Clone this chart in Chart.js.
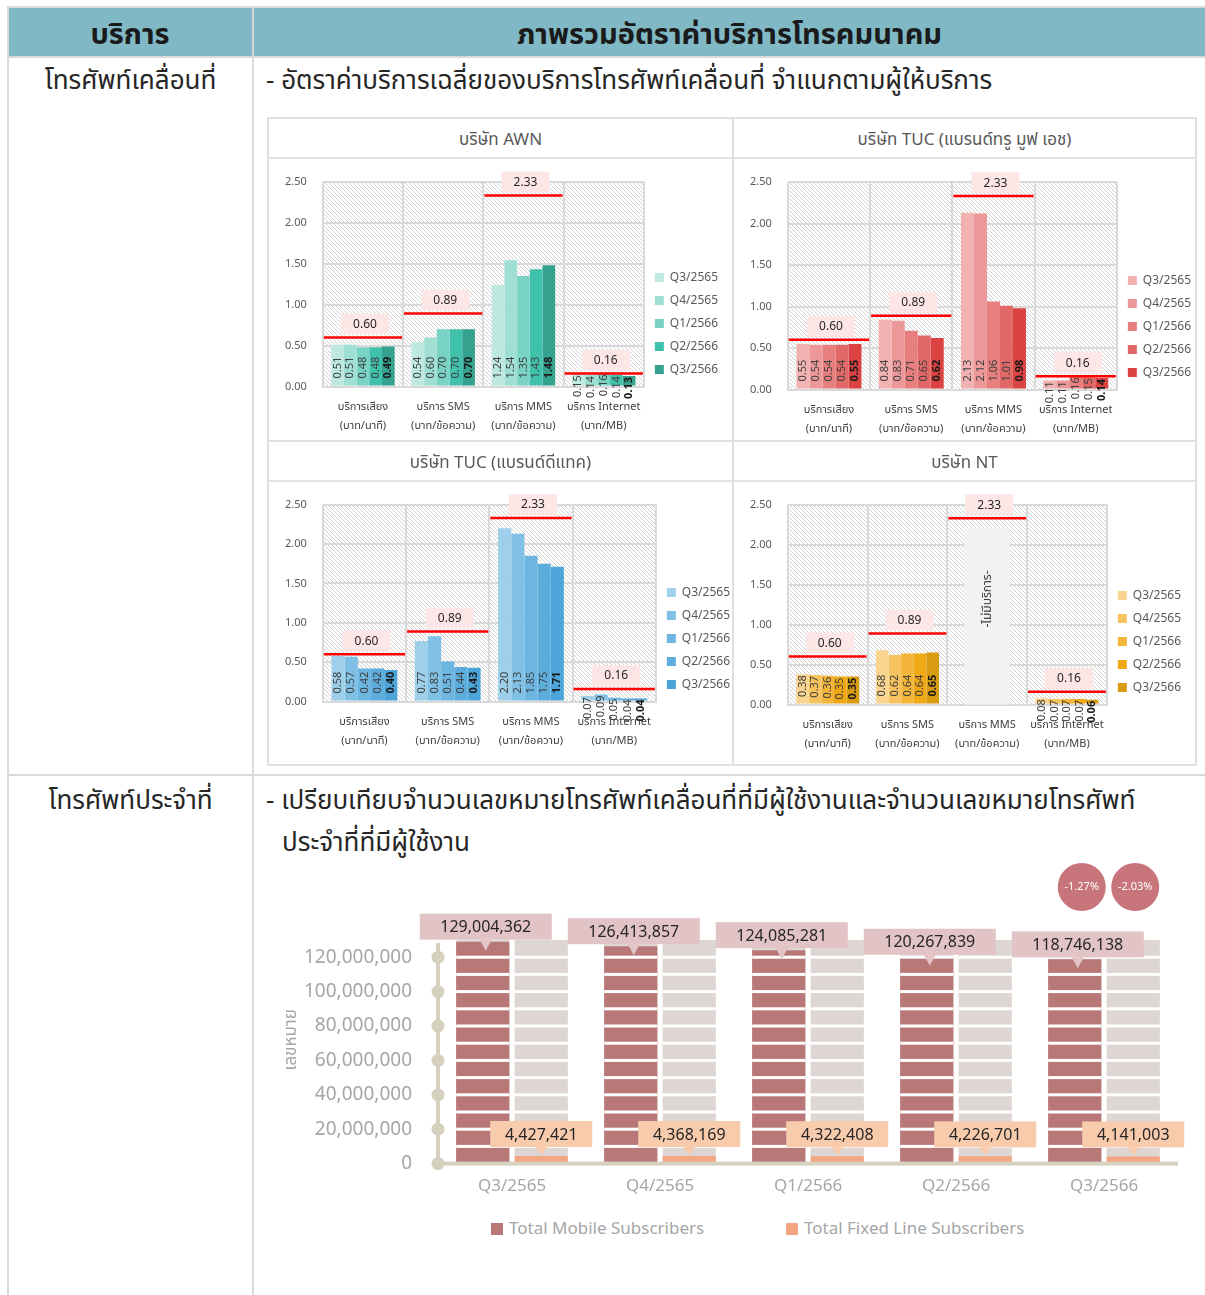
<!DOCTYPE html>
<html lang="th">
<head>
<meta charset="utf-8">
<title>ภาพรวมอัตราค่าบริการโทรคมนาคม</title>
<script src="https://cdn.jsdelivr.net/npm/chart.js@4.4.1/dist/chart.umd.min.js"></script>
<style>
    body { margin: 0; background: #fff; font-family: "Noto Sans", "Noto Sans Thai", sans-serif; color: #262626; }
    #page { position: relative; width: 1205px; height: 1295px; overflow: hidden; }
    .ln { position: absolute; background: #D9D9D9; }
    .head { position: absolute; top: 8px; height: 48px; line-height: 50px; background: #80B9C5; text-align: center; font-weight: bold; font-size: 29px; color: #1a1a1a; }
    .txt { position: absolute; font-size: 26px; line-height: 30px; white-space: nowrap; color: #262626; }
    .panel { position: absolute; }
    .ptitle { height: 38px; line-height: 40px; text-align: center; font-size: 17px; color: #595959; border-bottom: 2px solid #E3E3E3; }
    .panel canvas { display: block; }
    .leg { position: absolute; top: 1216px; font-size: 17px; color: #A6A6A6; white-space: nowrap; }
    .leg i { display: inline-block; width: 12px; height: 12px; margin-right: 6px; vertical-align: -1px; }
</style>
</head>
<body>
<div id="page">
    <div class="ln" style="left:7px;top:6px;width:1198px;height:2px"></div>
    <div class="head" style="left:8px;width:244px">บริการ</div>
    <div class="head" style="left:254px;width:951px">ภาพรวมอัตราค่าบริการโทรคมนาคม</div>
    <div class="ln" style="left:7px;top:6px;width:2px;height:1289px"></div>
    <div class="ln" style="left:252px;top:6px;width:2px;height:1289px"></div>
    <div class="ln" style="left:7px;top:56px;width:1198px;height:2px"></div>
    <div class="ln" style="left:7px;top:774px;width:1198px;height:2px"></div>

    <div class="txt" style="left:9px;width:243px;top:64px;text-align:center">โทรศัพท์เคลื่อนที่</div>
    <div class="txt" style="left:266px;top:64px">- อัตราค่าบริการเฉลี่ยของบริการโทรศัพท์เคลื่อนที่ จำแนกตามผู้ให้บริการ</div>
    <div class="txt" style="left:9px;width:243px;top:784px;text-align:center">โทรศัพท์ประจำที่</div>
    <div class="txt" style="left:266px;top:784px">- เปรียบเทียบจำนวนเลขหมายโทรศัพท์เคลื่อนที่ที่มีผู้ใช้งานและจำนวนเลขหมายโทรศัพท์</div>
    <div class="txt" style="left:282px;top:826px">ประจำที่ที่มีผู้ใช้งาน</div>

    <!-- 2x2 grid of provider charts -->
    <div class="ln" style="left:267px;top:117px;width:930px;height:2px;background:#E0E0E0"></div>
    <div class="ln" style="left:267px;top:764px;width:930px;height:2px;background:#E0E0E0"></div>
    <div class="ln" style="left:267px;top:117px;width:2px;height:649px;background:#E0E0E0"></div>
    <div class="ln" style="left:1195px;top:117px;width:2px;height:649px;background:#E0E0E0"></div>
    <div class="ln" style="left:732px;top:117px;width:2px;height:649px;background:#E0E0E0"></div>
    <div class="ln" style="left:267px;top:440px;width:930px;height:2px;background:#E0E0E0"></div>

    <div class="panel" style="left:269px;top:119px;width:463px">
        <div class="ptitle">บริษัท AWN</div>
        <canvas id="chartAwn" width="463" height="293"></canvas>
    </div>
    <div class="panel" style="left:734px;top:119px;width:461px">
        <div class="ptitle">บริษัท TUC (แบรนด์ทรู มูฟ เอช)</div>
        <canvas id="chartTrue" width="461" height="293"></canvas>
    </div>
    <div class="panel" style="left:269px;top:442px;width:463px">
        <div class="ptitle">บริษัท TUC (แบรนด์ดีแทค)</div>
        <canvas id="chartDtac" width="463" height="293"></canvas>
    </div>
    <div class="panel" style="left:734px;top:442px;width:461px">
        <div class="ptitle">บริษัท NT</div>
        <canvas id="chartNt" width="461" height="293"></canvas>
    </div>

    <canvas id="chartSubs" width="951" height="360" style="position:absolute;left:254px;top:855px"></canvas>
    <div class="leg" style="left:491px"><i style="background:#B97878"></i>Total Mobile Subscribers</div>
    <div class="leg" style="left:786px"><i style="background:#F2A782"></i>Total Fixed Line Subscribers</div>
</div>

<script>
// ---- data: average service rates (baht) per provider ----
const services = [['บริการเสียง', '(บาท/นาที)'], ['บริการ SMS', '(บาท/ข้อความ)'], ['บริการ MMS', '(บาท/ข้อความ)'], ['บริการ Internet', '(บาท/MB)']];
const quarters = ['Q3/2565', 'Q4/2565', 'Q1/2566', 'Q2/2566', 'Q3/2566'];
const ceilingRates = [0.60, 0.89, 2.33, 0.16];
const rateTicks = [0, 0.5, 1.0, 1.5, 2.0, 2.5];

const awnVoice = [0.51, 0.51, 0.48, 0.48, 0.49];
const awnSms = [0.54, 0.60, 0.70, 0.70, 0.70];
const awnMms = [1.24, 1.54, 1.35, 1.43, 1.48];
const awnNet = [0.15, 0.14, 0.16, 0.14, 0.13];

const trueVoice = [0.55, 0.54, 0.54, 0.54, 0.55];
const trueSms = [0.84, 0.83, 0.71, 0.65, 0.62];
const trueMms = [2.13, 2.12, 1.06, 1.01, 0.98];
const trueNet = [0.11, 0.11, 0.16, 0.15, 0.14];

const dtacVoice = [0.58, 0.57, 0.42, 0.42, 0.40];
const dtacSms = [0.77, 0.83, 0.51, 0.44, 0.43];
const dtacMms = [2.20, 2.13, 1.85, 1.75, 1.71];
const dtacNet = [0.07, 0.09, 0.05, 0.04, 0.04];

const ntVoice = [0.38, 0.37, 0.36, 0.35, 0.35];
const ntSms = [0.68, 0.62, 0.64, 0.64, 0.65];
const ntMms = [null, null, null, null, null];   // -ไม่มีบริการ-
const ntNet = [0.08, 0.07, 0.07, 0.07, 0.06];
const ntNoServiceLevel = 2.2;

// ---- data: subscribers ----
const subQuarters = ['Q3/2565', 'Q4/2565', 'Q1/2566', 'Q2/2566', 'Q3/2566'];
const mobileSubs = [129004362, 126413857, 124085281, 120267839, 118746138];
const fixedSubs = [4427421, 4368169, 4322408, 4226701, 4141003];
const subTicks = [0, 20000000, 40000000, 60000000, 80000000, 100000000, 120000000];
const subTrackLevel = 130000000;

const FONT = '"Noto Sans", "Noto Sans Thai", sans-serif';
Chart.defaults.font.family = FONT;

const awnColors = ['#BDE9E1', '#A0DFD4', '#79D3C4', '#3FC1AC', '#35A18F'];
const trueColors = ['#F2B2B2', '#EC9898', '#E77F7F', '#E26767', '#DB4242'];
const dtacColors = ['#9FD0EB', '#80C0E5', '#6DB6E1', '#5DADDC', '#4DA4D8'];
const ntColors = ['#F9D58F', '#F6C35F', '#F3B539', '#F0A815', '#D99B10'];

function hatchPattern(ctx) {
    const tile = document.createElement('canvas');
    tile.width = 4;
    tile.height = 4;
    const t = tile.getContext('2d');
    t.fillStyle = '#ffffff';
    t.fillRect(0, 0, 4, 4);
    t.fillStyle = '#D2D2D2';
    for (let i = 0; i < 4; i++) t.fillRect(i, i, 1, 1);
    return ctx.createPattern(tile, 'repeat');
}

// hatched plot background, red ceiling lines, rotated value labels
const rateDecor = {
    id: 'rateDecor',
    beforeDraw(chart) {
        const { ctx, chartArea: a } = chart;
        ctx.save();
        ctx.fillStyle = hatchPattern(ctx);
        ctx.fillRect(a.left, a.top, a.width, a.height);
        ctx.restore();
    },
    beforeDatasetsDraw(chart, args, opts) {
        if (opts.noService == null) return;
        const { ctx } = chart;
        const x = chart.scales.x, y = chart.scales.y;
        const cw = x.width / chart.data.labels.length;
        const cx = x.getPixelForValue(opts.noService);
        const w = cw * 0.57;
        const top = y.getPixelForValue(ntNoServiceLevel);
        const base = y.getPixelForValue(0);
        ctx.save();
        ctx.fillStyle = '#F2F2F2';
        ctx.fillRect(cx - w / 2, top, w, base - top);
        ctx.translate(cx, top + (base - top) * 0.4);
        ctx.rotate(-Math.PI / 2);
        ctx.fillStyle = '#404040';
        ctx.font = '12px ' + FONT;
        ctx.textAlign = 'center';
        ctx.textBaseline = 'middle';
        ctx.fillText('-ไม่มีบริการ-', 0, 0);
        ctx.restore();
    },
    afterDatasetsDraw(chart) {
        const { ctx } = chart;
        const x = chart.scales.x, y = chart.scales.y;
        const base = y.getPixelForValue(0);
        const last = chart.data.datasets.length - 1;

        ctx.save();
        chart.data.datasets.forEach((ds, di) => {
            const meta = chart.getDatasetMeta(di);
            ctx.font = (di === last ? 'bold ' : '') + '11px ' + FONT;
            ctx.fillStyle = di === last ? '#1a1a1a' : '#404040';
            ctx.textAlign = 'left';
            ctx.textBaseline = 'middle';
            meta.data.forEach((bar, i) => {
                const v = ds.data[i];
                if (v == null) return;
                const txt = v.toFixed(2);
                const tw = ctx.measureText(txt).width;
                const yb = Math.max(base - 8, bar.y + tw + 1);
                ctx.save();
                ctx.translate(bar.x, yb);
                ctx.rotate(-Math.PI / 2);
                ctx.fillText(txt, 0, 0);
                ctx.restore();
            });
        });

        const cw = x.width / chart.data.labels.length;
        ceilingRates.forEach((c, i) => {
            const cx = x.getPixelForValue(i);
            const ly = y.getPixelForValue(c);
            ctx.fillStyle = '#FDE6E6';
            ctx.fillRect(cx - 22, ly - 24, 48, 21);
            ctx.fillStyle = '#262626';
            ctx.font = '12px ' + FONT;
            ctx.textAlign = 'center';
            ctx.textBaseline = 'middle';
            ctx.fillText(c.toFixed(2), cx + 2, ly - 13);
            ctx.strokeStyle = '#FF0000';
            ctx.lineWidth = 2.5;
            ctx.beginPath();
            ctx.moveTo(cx - cw / 2 + 1, ly);
            ctx.lineTo(cx + cw / 2 - 1, ly);
            ctx.stroke();
        });
        ctx.restore();
    }
};

function makeRateChart(canvasId, colors, rows, noService, pad) {
    const datasets = quarters.map((q, qi) => ({
        label: q,
        data: rows.map(r => r[qi]),
        backgroundColor: colors[qi],
        categoryPercentage: 0.79,
        barPercentage: 1.0
    }));

    return new Chart(document.getElementById(canvasId), {
        type: 'bar',
        data: { labels: services, datasets: datasets },
        options: {
            responsive: false,
            animation: false,
            layout: { padding: { left: 0, right: pad.right, top: pad.top, bottom: pad.bottom } },
            scales: {
                x: {
                    grid: { color: '#D9D9D9', lineWidth: 2, drawTicks: false, offset: true },
                    border: { color: '#D9D9D9', width: 2 },
                    ticks: { color: '#404040', font: { size: 11, lineHeight: 1.7 }, padding: 11, maxRotation: 0, autoSkip: false }
                },
                y: {
                    min: 0,
                    max: 2.5,
                    afterBuildTicks: s => { s.ticks = rateTicks.map(v => ({ value: v })); },
                    ticks: { color: '#595959', font: { size: 11 }, padding: 16, callback: v => v.toFixed(2) },
                    grid: { color: '#D9D9D9', lineWidth: 2, drawTicks: false },
                    border: { display: false }
                }
            },
            plugins: {
                legend: {
                    position: 'right',
                    align: 'end',
                    fullSize: false,
                    labels: { boxWidth: 9, boxHeight: 9, color: '#595959', font: { size: 12 }, padding: 11 }
                },
                tooltip: { enabled: false },
                rateDecor: { noService: noService }
            }
        },
        plugins: [rateDecor]
    });
}

makeRateChart('chartAwn', awnColors, [awnVoice, awnSms, awnMms, awnNet], null, { top: 19, right: 4, bottom: 6 });
makeRateChart('chartTrue', trueColors, [trueVoice, trueSms, trueMms, trueNet], null, { top: 23, right: -6, bottom: 3 });
makeRateChart('chartDtac', dtacColors, [dtacVoice, dtacSms, dtacMms, dtacNet], null, { top: 19, right: -8, bottom: 14 });
makeRateChart('chartNt', ntColors, [ntVoice, ntSms, ntMms, ntNet], 2, { top: 22, right: 4, bottom: 11 });

// ---- subscribers chart ----
function calloutBox(ctx, cx, boxBottom, tipY, w, color, text) {
    const h = 26;
    ctx.fillStyle = color;
    ctx.fillRect(cx - w / 2, boxBottom - h, w, h);
    ctx.beginPath();
    ctx.moveTo(cx - 6, boxBottom);
    ctx.lineTo(cx + 6, boxBottom);
    ctx.lineTo(cx, tipY);
    ctx.closePath();
    ctx.fill();
    ctx.fillStyle = '#262626';
    ctx.font = '16px ' + FONT;
    ctx.textAlign = 'center';
    ctx.textBaseline = 'middle';
    ctx.fillText(text, cx, boxBottom - h / 2 + 1);
}

const subsDecor = {
    id: 'subsDecor',
    beforeDatasetsDraw(chart) {
        const { ctx } = chart;
        const y = chart.scales.y;
        const top = y.getPixelForValue(subTrackLevel);
        const base = y.getPixelForValue(0);
        ctx.save();
        ctx.fillStyle = '#DDD6D2';
        [0, 1].forEach(di => {
            chart.getDatasetMeta(di).data.forEach(bar => {
                ctx.fillRect(bar.x - bar.width / 2, top, bar.width, base - top);
            });
        });
        ctx.restore();
    },
    afterDatasetsDraw(chart) {
        const { ctx, chartArea: a } = chart;
        const y = chart.scales.y;
        const base = y.getPixelForValue(0);
        ctx.save();

        // white stripes every 10M
        ctx.fillStyle = '#ffffff';
        for (let v = 10000000; v < subTrackLevel; v += 10000000) {
            const py = y.getPixelForValue(v);
            [0, 1].forEach(di => {
                chart.getDatasetMeta(di).data.forEach(bar => {
                    ctx.fillRect(bar.x - bar.width / 2, py - 1.5, bar.width, 3);
                });
            });
        }

        // axis line with dots, baseline
        ctx.fillStyle = '#D6D0BE';
        ctx.fillRect(a.left - 2, a.top + 3, 4, base - a.top - 3);
        ctx.fillRect(a.left, base - 2, a.right - a.left, 4);
        subTicks.forEach(v => {
            ctx.beginPath();
            ctx.arc(a.left, y.getPixelForValue(v), 6.5, 0, Math.PI * 2);
            ctx.fill();
        });

        // axis title
        ctx.save();
        ctx.translate(a.left - 147, (a.top + base) / 2 - 12);
        ctx.rotate(-Math.PI / 2);
        ctx.fillStyle = '#A6A6A6';
        ctx.font = '17px ' + FONT;
        ctx.textAlign = 'center';
        ctx.textBaseline = 'middle';
        ctx.fillText('เลขหมาย', 0, 0);
        ctx.restore();

        // value callouts
        const mob = chart.getDatasetMeta(0).data;
        const fix = chart.getDatasetMeta(1).data;
        mob.forEach((bar, i) => {
            calloutBox(ctx, bar.x + 3, bar.y - 2, bar.y + 9, 132, '#E2C4C6', mobileSubs[i].toLocaleString('en-US'));
        });
        fix.forEach((bar, i) => {
            calloutBox(ctx, bar.x, bar.y - 9, bar.y - 1, 102, '#F8CBAD', fixedSubs[i].toLocaleString('en-US'));
        });

        // change bubbles for the latest quarter
        const n = mobileSubs.length - 1;
        const changes = [
            (mobileSubs[n] - mobileSubs[n - 1]) / mobileSubs[n - 1] * 100,
            (fixedSubs[n] - fixedSubs[n - 1]) / fixedSubs[n - 1] * 100
        ];
        [mob[n], fix[n]].forEach((bar, i) => {
            const bx = bar.x + (i === 0 ? 7 : 2);
            ctx.fillStyle = '#C8747B';
            ctx.beginPath();
            ctx.arc(bx, a.top - 53, 24, 0, Math.PI * 2);
            ctx.fill();
            ctx.fillStyle = '#ffffff';
            ctx.font = '11px ' + FONT;
            ctx.textAlign = 'center';
            ctx.textBaseline = 'middle';
            ctx.fillText(changes[i].toFixed(2) + '%', bx, a.top - 53);
        });
        ctx.restore();
    }
};

new Chart(document.getElementById('chartSubs'), {
    type: 'bar',
    data: {
        labels: subQuarters,
        datasets: [
            { label: 'Total Mobile Subscribers', data: mobileSubs, backgroundColor: '#B97878', categoryPercentage: 0.79, barPercentage: 0.91 },
            { label: 'Total Fixed Line Subscribers', data: fixedSubs, backgroundColor: '#F2A782', categoryPercentage: 0.79, barPercentage: 0.91 }
        ]
    },
    options: {
        responsive: false,
        animation: false,
        layout: { padding: { left: 24, right: 27, top: 85, bottom: 7 } },
        scales: {
            x: {
                grid: { display: false, drawTicks: false },
                border: { display: false },
                ticks: { color: '#A6A6A6', font: { size: 17 }, padding: 12 }
            },
            y: {
                min: 0,
                max: subTrackLevel,
                afterBuildTicks: s => { s.ticks = subTicks.map(v => ({ value: v })); },
                ticks: { color: '#A6A6A6', font: { size: 19 }, padding: 26, callback: v => v.toLocaleString('en-US') },
                grid: { display: false, drawTicks: false },
                border: { display: false }
            }
        },
        plugins: {
            legend: { display: false },
            tooltip: { enabled: false }
        }
    },
    plugins: [subsDecor]
});
</script>
</body>
</html>
